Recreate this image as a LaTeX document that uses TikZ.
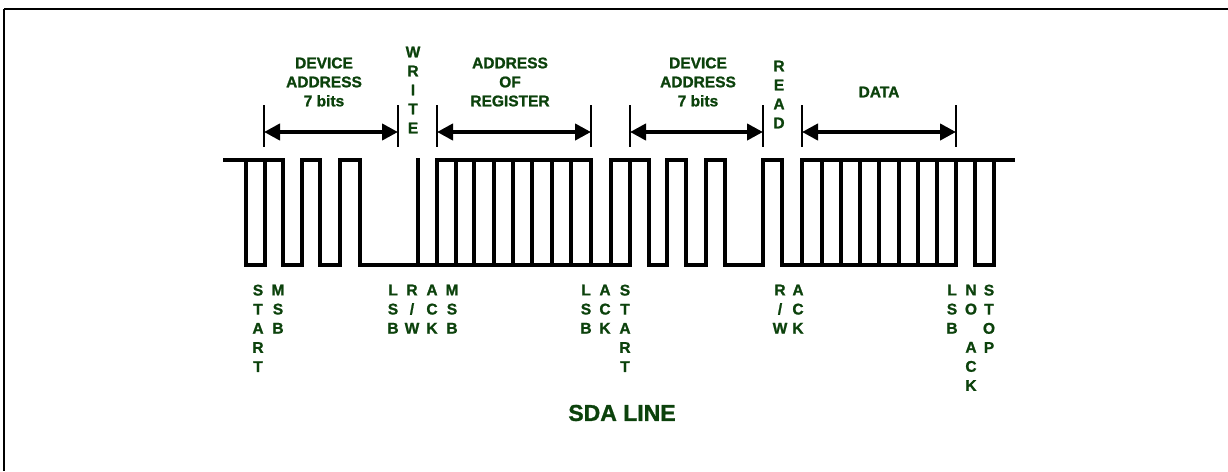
\documentclass[tikz,border=0pt]{standalone}
\usepackage{fontspec}
\setmainfont{Liberation Sans}
\newfontfamily\heavyfont{Liberation Sans Bold}[FakeBold=1.2]
\usetikzlibrary{arrows.meta}
\definecolor{lblgreen}{RGB}{12,66,12}
\begin{document}
\begin{tikzpicture}[x=1pt,y=-1pt,
  wave/.style={line width=3.1pt, line cap=rect},
  bar/.style={line width=2.8pt},
  span/.style={line width=4.4pt, {Triangle[length=16pt,width=16pt]}-{Triangle[length=16pt,width=16pt]}},
  toplbl/.style={text=lblgreen, font=\heavyfont\fontsize{15.5}{19}\selectfont, align=center, inner sep=0},
  botlbl/.style={text=lblgreen, font=\heavyfont\fontsize{15.5}{19.1}\selectfont, align=center, inner sep=0, anchor=north},
  frame/.style={line width=2.6pt}
]
\useasboundingbox (0,0) rectangle (1228,471);
% frame
\draw[frame] (4,9) -- (1228,9);
\draw[line width=1.6pt] (4,9) -- (4,471);

% waveform: high=160, low=265
\foreach \a/\b in {225/283, 302/320, 340/360, 437/591, 611/649, 667/686, 706/725, 763/782, 802/1013}
  \draw[wave] (\a,160) -- (\b,160);
\foreach \a/\b in {246/265, 283/302, 320/340, 360/630, 649/667, 686/706, 725/763, 782/956, 975/994}
  \draw[wave] (\a,265) -- (\b,265);
\foreach \x in {246,265,283,302,320,340,360,418,437,456,474,494,513,532,552,571,591,611,630,649,667,686,706,725,763,782,802,822,841,860,879,899,918,937,956,975,994}
  \draw[wave] (\x,160) -- (\x,265);

% span arrows
\foreach \n/\a/\b in {1/264/398, 2/437/591, 3/630/763, 4/802/956}{
  \draw[bar] (\a,105) -- (\a,147);
  \draw[bar] (\b,105) -- (\b,147);
  \coordinate (s\n l) at (\a,132);
  \coordinate (s\n r) at (\b,132);
  \draw[span] (s\n l) -- (s\n r);
}

% top labels
\node[toplbl] (dev1) at (324,82) {DEVICE\\ADDRESS\\7 bits};
\node[toplbl] (reg) at (510,82) {ADDRESS\\OF\\REGISTER};
\node[toplbl] (dev2) at (698,82) {DEVICE\\ADDRESS\\7 bits};
\node[toplbl] (data) at (879,92) {DATA};
\node[toplbl] (write) at (413,90) {W\\R\\I\\T\\E};
\node[toplbl] (read) at (779,94.5) {R\\E\\A\\D};

% bottom labels
\node[botlbl] (b1) at (258,284.5) {S\\T\\A\\R\\T};
\node[botlbl] (b2) at (278,284.5) {M\\S\\B};
\node[botlbl] (b3) at (393,284.5) {L\\S\\B};
\node[botlbl] (b4) at (412,284.5) {R\\/\\W};
\node[botlbl] (b5) at (432,284.5) {A\\C\\K};
\node[botlbl] (b6) at (452,284.5) {M\\S\\B};
\node[botlbl] (b7) at (586,284.5) {L\\S\\B};
\node[botlbl] (b8) at (605,284.5) {A\\C\\K};
\node[botlbl] (b9) at (625,284.5) {S\\T\\A\\R\\T};
\node[botlbl] (b10) at (780,284.5) {R\\/\\W};
\node[botlbl] (b11) at (798,284.5) {A\\C\\K};
\node[botlbl] (b12) at (952,284.5) {L\\S\\B};
\node[botlbl] (b13) at (971,284.5) {N\\O\\ \\A\\C\\K};
\node[botlbl] (b14) at (989,284.5) {S\\T\\O\\P};

\node[text=lblgreen, font=\heavyfont\fontsize{23}{27}\selectfont, inner sep=0] (sda) at (622,413) {SDA LINE};
\end{tikzpicture}
\end{document}
